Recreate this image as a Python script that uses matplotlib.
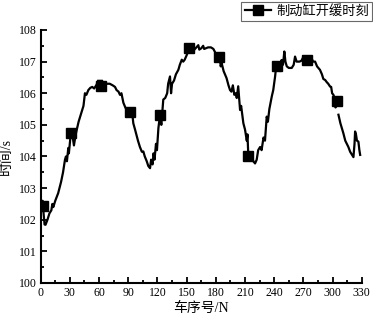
import numpy as np
import matplotlib
matplotlib.use("Agg")
import matplotlib.pyplot as plt
from matplotlib.ticker import MultipleLocator

plt.rcParams['font.family'] = ['Liberation Serif', 'Noto Sans CJK SC', 'DejaVu Sans']

series_name = "制动缸开缓时刻"
x_label = "车序号/N"
y_label = "时间/s"

car_x = [0, 1, 2, 3, 4, 5, 7, 9, 11, 12, 13, 15, 18, 21, 23, 25, 26, 27, 28.4, 29,
         31, 33, 34.2, 36, 39, 42, 44, 45.5, 47, 49, 51, 53, 55, 57.5, 59, 60, 61, 62, 63, 64.4,
         67, 71, 74, 76.4, 78, 80, 81.5, 83, 85, 87, 89, 91.8, 93, 94, 95.2, 97, 100, 102, 104, 105.5,
         107, 109, 110.6, 112.4, 113.5, 115, 116, 117, 118.5, 119.5, 121, 122.6, 124, 126, 128, 130,
         131, 132.9, 134, 135, 137, 139, 141.5, 143, 145, 146.5, 148, 150, 152.8, 155, 157, 158, 160,
         162, 163, 165, 167, 168, 172, 175, 177.5, 180, 183, 184.5, 185, 186, 188, 191, 193, 194.6,
         196, 197.5, 199, 200.5, 201.5, 203, 204.9, 206, 208.3, 210, 211.8, 212.5, 213.4, 215, 217,
         218.5, 220.3, 222, 223.5, 225.5, 227, 229, 230.5, 232.3, 233.5, 235, 237.5, 239, 240.9, 242,
         243.2, 244.5, 246, 247.5, 249, 250.4, 251.5, 252.9, 255, 258, 260, 261.4, 263, 266, 268, 270,
         271, 272, 274, 276, 278, 280, 282, 284, 287, 289, 290.5, 292.3, 294, 295.5, 297.4, 298.5,
         299.5, 300.8, 302, 303, 304.3, 305, 306, 308, 311, 313, 316.2, 318, 320, 321.4, 322.5, 323.1,
         324, 325, 326.5, 327.5, 328.3]
release_time = [102.5, 102.3, 102.6, 102.2, 101.85, 101.84, 102.0, 102.2, 102.3, 102.5, 102.4, 102.6,
                102.84, 103.2, 103.5, 103.9, 104.0, 103.85, 104.27, 104.1,
                104.74, 104.6, 104.35, 104.7, 105.1, 105.4, 105.6, 106.0, 105.95, 106.1, 106.17, 106.2,
                106.15, 106.27, 106.4, 106.2, 106.4, 106.23, 106.4, 106.32,
                106.3, 106.3, 106.25, 106.2, 106.1, 106.05, 105.95, 106.0, 105.7, 105.55, 105.45, 105.42,
                105.3, 105.4, 105.05, 104.85, 104.5, 104.3, 104.15, 104.16,
                104.0, 103.85, 103.7, 103.63, 103.9, 103.75, 104.1, 103.9, 104.4, 104.2, 104.9, 105.3,
                105.0, 105.8, 105.85, 106.0,
                106.3, 106.53, 106.0, 106.3, 106.4, 106.6, 106.74, 106.9, 107.06, 107.0, 107.06, 107.2,
                107.43, 107.42, 107.5, 107.38, 107.45,
                107.52, 107.38, 107.42, 107.5, 107.4, 107.45, 107.45, 107.4, 107.25, 107.13, 107.0,
                106.85, 106.95, 106.7, 106.48, 106.25, 106.1,
                106.05, 106.25, 105.95, 106.0, 105.85, 106.22, 105.47, 105.6, 105.05, 104.85, 104.5,
                104.7, 104.02, 103.95, 104.0,
                103.85, 103.78, 103.9, 104.2, 104.3, 104.2, 104.6, 104.5, 105.26, 105.1, 105.5, 105.9,
                106.1, 106.53, 106.85,
                106.85, 106.9, 106.7, 107.05, 106.9, 107.32, 107.0, 106.85, 106.8, 106.8, 106.9, 107.16,
                107.0, 107.0, 107.03, 107.15,
                106.95, 107.15, 107.05, 107.0, 107.12, 107.0, 107.0, 106.85, 106.74, 106.6, 106.45,
                106.42, 106.35, 106.3, 106.21, 106.2,
                106.0, 105.95, 105.85, 105.55, 105.74, np.nan, 105.32, 105.05, 104.74, 104.5, 104.3,
                104.15, 104.05, 103.98, 104.4, 104.79,
                104.7, 104.5, 104.47, 104.2, 104.05]

marker_x = [2, 31, 62, 92, 122.6, 152.8, 183, 213.4, 243.2, 274, 304.3]
marker_y = [102.44, 104.74, 106.23, 105.42, 105.32, 107.43, 107.13, 104.02, 106.85, 107.06, 105.74]

fig = plt.figure(figsize=(3.73, 3.19), dpi=100)
ax = fig.add_axes([0.109, 0.1129, 0.861, 0.7931])

ax.plot(car_x, release_time, color='black', lw=1.6, zorder=3)
ax.plot(marker_x, marker_y, ls='none', marker='s', ms=6.5, color='black', zorder=4)
handle, = ax.plot([], [], color='black', lw=1.6, marker='s', ms=6.5)

ax.set_xlim(0, 330)
ax.set_ylim(100, 108)
ax.xaxis.set_major_locator(MultipleLocator(30))
ax.xaxis.set_minor_locator(MultipleLocator(15))
ax.yaxis.set_major_locator(MultipleLocator(1))
ax.yaxis.set_minor_locator(MultipleLocator(0.5))
ax.tick_params(which='both', direction='in', width=1.3, labelsize=8.5)
ax.tick_params(which='major', length=4, pad=3)
ax.tick_params(which='minor', length=2.5)
for s in ['top', 'right']:
    ax.spines[s].set_visible(False)
for s in ['left', 'bottom']:
    ax.spines[s].set_linewidth(1.5)

ax.set_xlabel(x_label, fontsize=10, labelpad=2)
ax.set_ylabel(y_label, fontsize=10, labelpad=4)

leg = fig.legend([handle], [series_name], loc='upper right', bbox_to_anchor=(0.998, 0.995),
                 fontsize=9.5, frameon=True, fancybox=False, handlelength=2.0,
                 borderpad=0.25, handletextpad=0.4, borderaxespad=0)
leg.get_frame().set_edgecolor('#444444')
leg.get_frame().set_linewidth(0.8)

fig.savefig('out.png', dpi=100)
